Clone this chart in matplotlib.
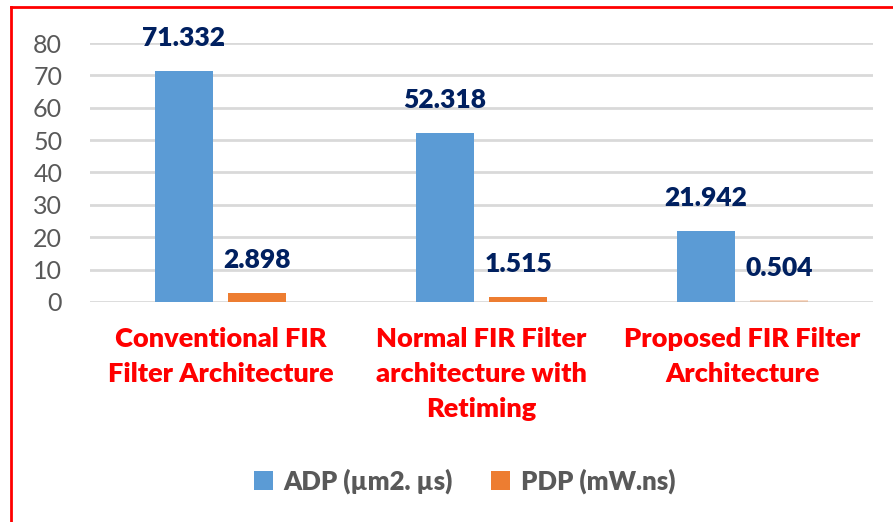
import matplotlib.pyplot as plt
from matplotlib.lines import Line2D
import numpy as np

# data
categories = ["Conventional FIR\nFilter Architecture",
              "Normal FIR Filter\narchitecture with\nRetiming",
              "Proposed FIR Filter\nArchitecture"]
adp = [71.332, 52.318, 21.942]
pdp = [2.898, 1.515, 0.504]
series_names = ["ADP (µm2. µs)", "PDP (mW.ns)"]

plt.rcParams['font.family'] = ['Lato', 'DejaVu Sans']

fig = plt.figure(figsize=(8.93, 5.22), dpi=100)
ax = fig.add_axes([0.1008, 0.4215, 0.8768, 0.4961])

x = np.arange(len(categories))
w = 0.222
off = 0.141

b1 = ax.bar(x - off, adp, w, color='#5B9BD5', label=series_names[0], zorder=3)
b2 = ax.bar(x + off, pdp, w, color='#ED7D31', label=series_names[1], zorder=3)
b2[2].set_alpha(0.3)

# value labels
for bars, vals in ((b1, adp), (b2, pdp)):
    for r, v in zip(bars, vals):
        ax.annotate(f"{v:.3f}", (r.get_x() + r.get_width() / 2, r.get_height()),
                    xytext=(0, 15), textcoords='offset points',
                    ha='center', va='bottom', fontsize=19, fontweight='heavy',
                    color='#002060', annotation_clip=False)

ax.set_xlim(-0.5, 2.5)
ax.set_ylim(0, 80)
ax.set_yticks(range(0, 81, 10))
ax.yaxis.grid(True, color='#D9D9D9', linewidth=2, zorder=0)
ax.set_axisbelow(True)
for s in ax.spines.values():
    s.set_visible(False)

ax.tick_params(axis='y', length=0, pad=20, labelsize=18, labelcolor='#595959')
ax.tick_params(axis='x', length=0, pad=18)
ax.set_xticks(x)
ax.set_xticklabels(categories, fontsize=19.5, fontweight='heavy', color='#FF0000',
                   linespacing=1.55)

leg = fig.legend(handles=[b1, b2], loc='center', bbox_to_anchor=(0.520, 0.0785),
                 ncol=2, frameon=False, handlelength=0.75, handleheight=0.75,
                 handletextpad=0.4, columnspacing=1.5, fontsize=18.5)
for t in leg.get_texts():
    t.set_color('#595959')
    t.set_fontweight('heavy')

# red frame around chart area (left and top edges visible)
fig.add_artist(Line2D([0.0123, 0.0123], [0.0, 0.9866], color='#FF0000', linewidth=2))
fig.add_artist(Line2D([0.0123, 1.0], [0.9866, 0.9866], color='#FF0000', linewidth=2))

fig.savefig("out.png", dpi=100)
